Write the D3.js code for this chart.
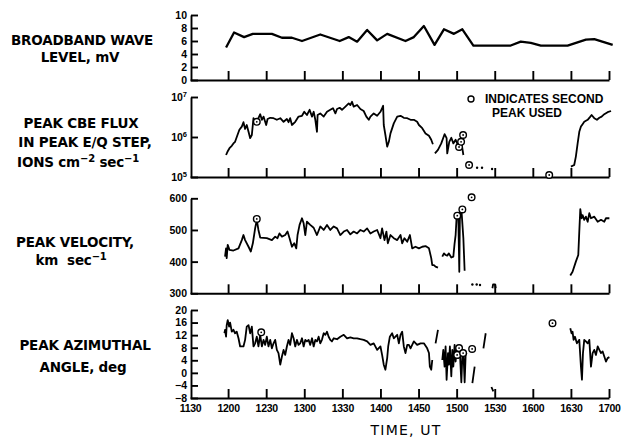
<!DOCTYPE html>
<html>
<head>
<meta charset="utf-8">
<script src="https://cdn.jsdelivr.net/npm/d3@7"></script>
<style>
  body { margin: 0; background: #fff; }
  svg text { font-family: "Liberation Sans", Arial, sans-serif; font-weight: bold; fill: #000; }
</style>
</head>
<body>
<script>
// time is minutes after 1200 UT
var xTicks = [0, 30, 60, 90, 120, 150, 180, 210, 240, 270, 300];
var xLabelTicks = [-30, 0, 30, 60, 90, 120, 150, 180, 210, 240, 270, 300];
var xLabels = ['1130','1200','1230','1300','1330','1400','1450','1500','1530','1600','1630','1700'];

// broadband wave level, mV
var broadT = [-1.6,4.7,12.6,19.5,34.5,42.4,50.3,58.2,72.6,87.9,95,101.6,109.5,117.4,125.3,139.7,146.3,154.2,162.6,170,177.9,184.5,193.2,222.6,230.5,238.4,246.3,267.4,281.8,288.4,302.9];
var broadV = [5.0,7.3,6.6,7.1,7.1,6.5,6.5,6.0,7.0,6.0,6.6,5.9,7.7,6.1,7.1,6.0,6.6,8.3,5.4,7.8,7.1,7.8,5.3,5.3,5.9,5.7,5.3,5.3,6.2,6.3,5.4];

// peak CBE flux, log10 of ions cm-2 sec-1 (null = gap)
var fluxT = [-1.6,-0.5,1.1,2.9,4.2,5.5,7.4,8.9,10.8,12.1,13.4,14.7,16.1,17.4,18.7,20,21.3,23.9,25.3,26.6,27.9,30,31.1,33.2,35.8,38.4,41.1,43.7,46.3,47.6,48.9,50.3,52.9,55.5,58.2,60,62.1,64.2,66.1,67.4,68.7,70,70.5,72.6,75.3,77.9,80.5,82.6,84.5,85.8,87.9,89.7,92.4,95,96.3,97.6,98.9,101.6,104.2,106.8,108.9,110.8,112.1,114.7,117.4,120,121.3,122.1,122.6,123.9,125.3,126.6,127.9,130.5,133.2,135.8,138.4,141.1,143.7,146.3,148.9,150.3,152.9,155.5,158.2,160,161.3,
  null,162.9,165.3,167.9,170.5,172.1,172.6,174.2,175.8,177.4,179.2,181.1,182.6,183.7,185.3,
  null,270,272.6,273.9,275.3,276.6,277.9,279.2,280.5,283.2,285.3,286.3,288.4,290.5,292.4,294.2,296.3,298.9,301.6];
var fluxLog = [5.55,5.63,5.72,5.78,5.84,5.88,6.05,6.18,6.26,6.37,6.20,6.30,6.13,5.97,6.05,6.47,6.38,6.47,6.57,6.43,6.51,6.30,6.45,6.48,6.47,6.43,6.47,6.38,6.45,6.37,6.47,6.30,6.38,6.51,6.53,6.63,6.55,6.68,6.51,6.63,6.43,6.13,6.55,6.59,6.51,6.63,6.68,6.72,6.59,6.70,6.73,6.68,6.76,6.84,6.80,6.88,6.76,6.80,6.70,6.65,6.51,6.43,6.51,6.59,6.53,6.63,6.72,6.78,6.30,6.05,5.76,5.88,6.09,6.34,6.51,6.53,6.48,6.47,6.43,6.43,6.38,6.30,6.22,6.09,6.03,5.93,5.82,
  null,5.59,5.68,5.84,6.07,5.97,5.59,5.88,5.98,5.84,5.93,5.80,5.68,5.88,5.55,
  null,5.26,5.30,5.51,5.84,6.13,6.26,6.32,6.38,6.43,6.51,6.55,6.47,6.43,6.48,6.51,6.57,6.62,6.65];
var fluxDotT = [196.1, 200, 207.9];
var fluxDotLog = [5.23, 5.23, 5.2];
var fluxSecondT = [22.6, 181.9, 183.5, 185.1, 189.8, 252.9];
var fluxSecondLog = [6.38, 5.75, 5.88, 6.05, 5.30, 5.05];

// peak velocity, km/s
var velT = [-2.4,-1.6,-1.1,-0.3,1.1,4.2,8.2,10.8,12.1,13.4,16.1,17.9,19.5,21.3,22.6,23.9,25.3,30.5,34.5,37.1,38.9,40.5,42.4,45,46.8,48.4,50.3,52.1,53.7,54.7,56.3,58.2,59.5,60.8,62.1,64.7,67.4,70,72.6,75.3,77.9,80.5,83.2,85.8,88.4,91.1,93.7,96.3,98.9,101.6,104.2,106.8,109.5,112.1,114.7,117.4,120,121.3,123.2,124.7,125.8,127.9,130.5,133.2,135.8,137.1,138.9,141.1,143.2,145,147.6,150.3,152.9,155.5,158.2,160,160.8,162.1,163.4,165.3,
  null,168.7,170,171.3,172.6,173.9,175.8,177.4,178.4,179.2,180,181.3,182.1,182.6,183.7,185.3,186.3,
  null,208.2,208.7,210.3,210.8,
  null,269.5,271.3,273.9,275.8,276.6,277.4,278.4,279.2,280.5,281.8,283.2,284.5,285.8,288.4,291.1,293.7,296.3,297.6,300.3];
var velV = [416,442,411,453,437,435,442,468,484,468,447,432,458,505,532,500,476,474,468,479,474,489,479,484,495,474,447,458,442,484,516,537,521,484,526,516,507,484,511,500,516,500,511,505,484,495,500,486,495,489,500,495,505,489,495,500,474,505,468,495,458,484,474,468,484,458,474,463,484,442,447,442,447,449,442,411,389,389,384,381,
  null,416,426,421,419,426,413,416,458,484,542,547,368,558,568,474,371,
  null,316,328,328,316,
  null,356,368,400,421,495,566,537,547,532,542,526,553,537,542,526,532,526,537,537];
var velDotT = [192.4, 195.8, 198.4];
var velDotV = [328, 328, 326];
var velSecondT = [22.6, 180.5, 184.5, 191.8];
var velSecondV = [535, 545, 565, 603];

// peak azimuthal angle, deg
var azT = [-2.9,-2.4,-1.6,-1.1,-0.3,0.8,1.6,2.9,4.2,5.5,6.8,8.2,9.5,12.1,13.4,14.7,16.1,17.4,18.7,20,21.3,22.6,23.9,25.3,26.6,27.9,29.2,30.5,31.8,33.2,34.5,35.8,37.1,38.4,39.7,41.1,42.4,43.7,45,46.3,47.6,48.9,50.3,51.6,52.9,54.2,55.5,56.8,58.2,59.5,60.8,62.1,63.4,64.7,66.1,67.4,68.7,70,71.3,72.6,73.9,75.3,76.6,77.9,79.2,80.5,81.8,83.2,85.8,88.4,91.1,93.7,96.3,98.9,101.6,104.2,106.8,109.5,112.1,114.7,117.4,120,121.3,122.6,123.9,125.3,126.1,127.4,129.2,130.5,131.8,133.2,134.5,135.8,137.1,138.4,139.7,141.1,142.4,143.7,146.3,148.9,151.6,154.2,156.8,158.2,158.9,160,160.8,
  null,163.4,165.3,
  null,168.7,169.5,170.5,171.3,172.1,173.2,173.9,174.7,175.8,176.6,177.4,178.4,179.2,180,181.1,181.8,182.6,183.7,184.5,185.3,186.3,187.1,187.9,
  null,192.4,194.2,
  null,201.1,202.9,
  null,207.4,208.9,
  null,269.5,270.5,271.3,272.1,273.2,274.7,276.6,277.9,278.7,279.5,280.5,281.8,283.2,284.5,285.8,287.1,288.4,289.7,291.1,292.4,293.7,295,296.3,297.6,298.9,300.3];
var azV = [12.6,13.7,11.5,15.2,16.8,14.7,16.0,13.1,13.7,12.6,13.1,11.0,8.4,8.4,10.5,14.7,15.2,12.6,14.7,8.4,9.4,11.5,8.4,12.1,8.4,10.5,8.9,11.5,8.4,10.5,7.8,9.4,10.5,7.3,6.3,2.6,5.2,7.3,5.7,8.4,10.5,8.9,12.6,11.0,8.4,10.5,8.9,9.4,11.0,8.4,10.5,10.0,10.5,8.9,11.0,8.4,10.5,10.0,11.5,9.4,10.5,12.6,12.1,13.1,11.5,10.5,10.0,11.0,10.7,11.5,12.1,11.0,11.3,11.0,11.0,10.7,10.5,10.0,8.9,9.4,7.3,8.4,5.7,2.6,1.0,4.7,8.4,11.5,12.6,11.0,11.5,12.1,9.4,12.1,13.1,8.4,6.3,8.9,8.9,7.8,10.0,8.9,9.4,9.4,7.8,6.3,2.0,1.0,4.1,
  null,9.4,13.7,
  null,4.1,7.3,2.0,8.4,-2.2,6.3,2.6,8.4,-1.1,7.3,2.0,8.9,3.6,7.3,4.7,7.3,6.3,-3.0,5.2,6.8,-3.0,5.7,6.3,
  null,-3.3,2.0,
  null,7.8,12.6,
  null,-4.5,-5.9,
  null,14.2,12.6,13.1,10.5,11.5,9.4,10.5,2.0,-2.2,6.3,10.5,10.0,9.4,10.5,2.0,6.3,7.3,5.7,8.4,7.3,6.3,6.8,5.2,3.6,4.7,5.0];
var azSecondT = [26.1, 180.4, 181.9, 185.1, 192.2, 255.5];
var azSecondV = [12.9, 5.7, 7.9, 6.3, 7.6, 15.8];

var svg = d3.select('body').append('svg')
    .attr('width', 625).attr('height', 439);

var x = d3.scaleLinear().domain([-30, 300]).range([190, 609]);
var axisX = 191;
var lettering = '"DejaVu Sans", "Liberation Sans", sans-serif';

function pairs(ts, vs) {
    return ts.map(function(t, i) { return {t: t, v: vs[i]}; });
}

// panel scales
var yBroad = d3.scaleLinear().domain([0, 10]).range([80, 15]);
var yFlux = d3.scaleLog().domain([1e5, 1e7]).range([177, 97]);
var yVel = d3.scaleLinear().domain([300, 600]).range([293.3, 198.3]);
var yAz = d3.scaleLinear().domain([-8, 20]).range([398, 310]);

function drawAxes(y, ticks, fmt, bottom) {
    var left = svg.append('g').attr('transform', 'translate(' + axisX + ',0)')
        .call(d3.axisLeft(y).tickValues(ticks).tickSize(-7).tickSizeOuter(0).tickPadding(4).tickFormat(fmt));
    left.selectAll('text').attr('font-size', 10.5).attr('font-weight', 'bold')
        .attr('font-family', '"Liberation Sans", Arial, sans-serif');
    svg.append('g').attr('transform', 'translate(0,' + bottom + ')')
        .call(d3.axisBottom(x).tickValues(xTicks).tickSize(-9).tickSizeOuter(0).tickFormat(''));
    svg.selectAll('.domain, .tick line').attr('stroke', '#000').attr('stroke-width', 1.9);
    return left;
}

drawAxes(yBroad, [0, 2, 4, 6, 8, 10], d3.format('d'), 80);
var fluxAxis = drawAxes(yFlux, [1e5, 1e6, 1e7], function() { return ''; }, 177);
fluxAxis.selectAll('.tick text').each(function(d) {
    var t = d3.select(this);
    t.append('tspan').text('10');
    t.append('tspan').attr('dy', -4).attr('font-size', 7.5).text(Math.round(Math.log10(d)));
});
drawAxes(yVel, [300, 400, 500, 600], d3.format('d'), 293.3);
drawAxes(yAz, [-8, -4, 0, 4, 8, 12, 16, 20], function(d) { return d < 0 ? '\u2212' + (-d) : d; }, 398);

// x labels under bottom panel
var lab = svg.append('g').attr('transform', 'translate(0,400)')
    .call(d3.axisBottom(x).tickValues(xLabelTicks).tickSize(0).tickPadding(5)
        .tickFormat(function(d, i) { return xLabels[i]; }));
lab.select('.domain').remove();
lab.selectAll('text').attr('font-size', 10.5).attr('font-weight', 'bold')
    .attr('font-family', '"Liberation Sans", Arial, sans-serif').attr('letter-spacing', -0.3);

svg.append('text').attr('x', 406).attr('y', 434.5).attr('text-anchor', 'middle')
    .style('font-family', lettering).style('font-weight', 'normal')
    .attr('font-size', 14).attr('letter-spacing', 1.2).text('TIME, UT');

// data lines
function drawLine(ts, vs, y, w) {
    var line = d3.line()
        .defined(function(d) { return d.t != null && d.v != null; })
        .x(function(d) { return x(d.t); })
        .y(function(d) { return y(d.v); });
    svg.append('path').datum(pairs(ts, vs))
        .attr('d', line).attr('fill', 'none').attr('stroke', '#000')
        .attr('stroke-width', w).attr('stroke-linejoin', 'round');
}

function drawRings(ts, vs, y) {
    var g = svg.append('g');
    var d = pairs(ts, vs);
    g.selectAll('circle.ring').data(d).enter().append('circle')
        .attr('cx', function(p) { return x(p.t); }).attr('cy', function(p) { return y(p.v); })
        .attr('r', 3.3).attr('fill', '#fff').attr('stroke', '#000').attr('stroke-width', 1.4);
    g.selectAll('circle.pip').data(d).enter().append('circle')
        .attr('cx', function(p) { return x(p.t); }).attr('cy', function(p) { return y(p.v); })
        .attr('r', 0.9).attr('fill', '#000');
}

function drawDots(ts, vs, y) {
    svg.append('g').selectAll('circle').data(pairs(ts, vs)).enter().append('circle')
        .attr('cx', function(p) { return x(p.t); }).attr('cy', function(p) { return y(p.v); })
        .attr('r', 1.2).attr('fill', '#000');
}

var fluxVals = fluxLog.map(function(e) { return e == null ? null : Math.pow(10, e); });
drawLine(broadT, broadV, yBroad, 2.3);
drawLine(fluxT, fluxVals, yFlux, 1.8);
drawDots(fluxDotT, fluxDotLog.map(function(e) { return Math.pow(10, e); }), yFlux);
drawRings(fluxSecondT, fluxSecondLog.map(function(e) { return Math.pow(10, e); }), yFlux);
drawLine(velT, velV, yVel, 1.8);
drawDots(velDotT, velDotV, yVel);
drawRings(velSecondT, velSecondV, yVel);
drawLine(azT, azV, yAz, 1.8);
drawRings(azSecondT, azSecondV, yAz);

// legend
svg.append('circle').attr('cx', 471).attr('cy', 99).attr('r', 3)
    .attr('fill', 'none').attr('stroke', '#000').attr('stroke-width', 1.4);
svg.append('text').attr('x', 485).attr('y', 103).attr('font-size', 12).text('INDICATES SECOND');
svg.append('text').attr('x', 492).attr('y', 117).attr('font-size', 12).text('PEAK USED');

// panel titles
var titles = [
    {x: 82, y: 45, s: 'BROADBAND WAVE'},
    {x: 80, y: 62, s: 'LEVEL, mV'},
    {x: 81, y: 128, s: 'PEAK CBE FLUX'},
    {x: 85, y: 147, s: 'IN PEAK E/Q STEP,'},
    {x: 78, y: 167, s: 'IONS cm|-2| sec|-1'},
    {x: 75, y: 247, s: 'PEAK VELOCITY,'},
    {x: 71, y: 265, s: 'km\u00a0\u00a0sec|-1'},
    {x: 85, y: 350, s: 'PEAK AZIMUTHAL'},
    {x: 83, y: 372, s: 'ANGLE, deg'}
];
titles.forEach(function(d) {
    var t = svg.append('text').attr('x', d.x).attr('y', d.y)
        .attr('text-anchor', 'middle').attr('font-size', 13.5)
        .style('font-family', lettering).attr('letter-spacing', -0.2);
    var parts = d.s.split('|');
    parts.forEach(function(p, i) {
        if (i % 2 === 1) {
            t.append('tspan').attr('dy', -5).attr('font-size', 10).text(p.replace('-', '\u2212'));
        } else {
            var ts = t.append('tspan').text(p);
            if (i > 0) ts.attr('dy', 5);
        }
    });
});
</script>
</body>
</html>
